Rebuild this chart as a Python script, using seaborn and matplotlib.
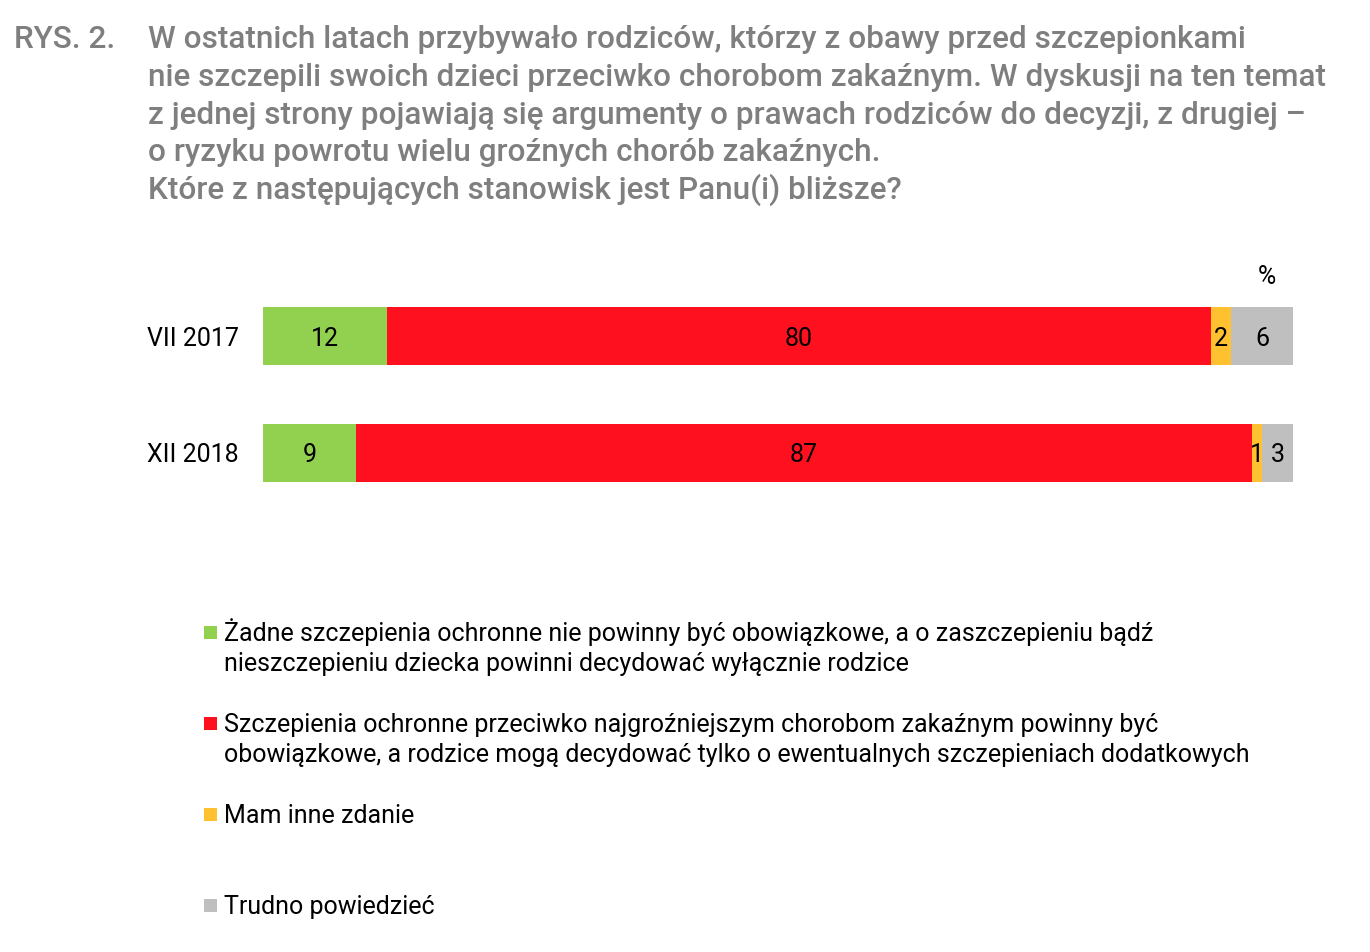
import matplotlib
matplotlib.use("Agg")
import matplotlib.pyplot as plt
from matplotlib.patches import Rectangle
import seaborn as sns
import pandas as pd
import numpy as np

periods = ["VII 2017", "XII 2018"]
categories = [
    "Żadne szczepienia ochronne nie powinny być obowiązkowe, a o zaszczepieniu bądź\nnieszczepieniu dziecka powinni decydować wyłącznie rodzice",
    "Szczepienia ochronne przeciwko najgroźniejszym chorobom zakaźnym powinny być\nobowiązkowe, a rodzice mogą decydować tylko o ewentualnych szczepieniach dodatkowych",
    "Mam inne zdanie",
    "Trudno powiedzieć",
]
zadne = [12, 9]
obowiazkowe = [80, 87]
inne = [2, 1]
trudno = [6, 3]
colors = ["#92D050", "#FF101F", "#FFC130", "#BFBFBF"]

title_prefix = "RYS. 2."
title_lines = [
    "W ostatnich latach przybywało rodziców, którzy z obawy przed szczepionkami",
    "nie szczepili swoich dzieci przeciwko chorobom zakaźnym. W dyskusji na ten temat",
    "z jednej strony pojawiają się argumenty o prawach rodziców do decyzji, z drugiej –",
    "o ryzyku powrotu wielu groźnych chorób zakaźnych.",
    "Które z następujących stanowisk jest Panu(i) bliższe?",
]

sns.set_theme(style="white")
plt.rcParams["font.family"] = ["Roboto", "DejaVu Sans"]

series = [zadne, obowiazkowe, inne, trudno]
vals = np.array(series)  # shape (4, 2)
cum = np.cumsum(vals, axis=0)

W, H = 1370, 952
fig = plt.figure(figsize=(W / 100, H / 100), dpi=100)
ax = fig.add_axes([263 / W, 1 - 511.5 / H, 1030 / W, 234 / H])

for k in range(len(series) - 1, -1, -1):
    df = pd.DataFrame({"period": periods, "value": cum[k]})
    sns.barplot(data=df, x="value", y="period", orient="h", color=colors[k],
                width=0.5, linewidth=0, saturation=1, ax=ax)

for i in range(len(periods)):
    for k in range(len(series)):
        v = vals[k, i]
        ax.text(cum[k, i] - v / 2, i, str(v), ha="center", va="center_baseline",
                fontsize=18, color="#000000")

ax.set_xlim(0, 100)
ax.set_ylim(1.5, -0.5)
ax.set_xlabel("")
ax.set_ylabel("")
ax.set_xticks([])
for s in ax.spines.values():
    s.set_visible(False)
ax.tick_params(axis="y", length=0, pad=17.3, labelsize=18, labelcolor="#000000")

# percent sign
fig.text(1267 / W, 1 - 274 / H, "%", ha="center", va="center_baseline", fontsize=18,
         color="#000000")

# title
tcol = "#7F7F7F"
fig.text(14 / W, 1 - 48 / H, title_prefix, ha="left", va="baseline", fontsize=22.7,
         color=tcol, fontweight="medium")
for j, line in enumerate(title_lines):
    fig.text(148 / W, 1 - (48 + j * 37.8) / H, line, ha="left", va="baseline",
             fontsize=22.7, color=tcol, fontweight="medium")

# legend
leg_y = [632, 723, 814, 905]
for k, lab in enumerate(categories):
    y0 = leg_y[k]
    fig.patches.append(Rectangle((204 / W, 1 - (y0 + 6.5) / H), 13 / W, 13 / H,
                                 transform=fig.transFigure, facecolor=colors[k],
                                 edgecolor="none"))
    for j, part in enumerate(lab.split("\n")):
        fig.text(224 / W, 1 - (y0 + 9 + j * 30) / H, part, ha="left", va="baseline",
                 fontsize=18, color="#000000")

fig.savefig("out.png", dpi=100, facecolor="white")
